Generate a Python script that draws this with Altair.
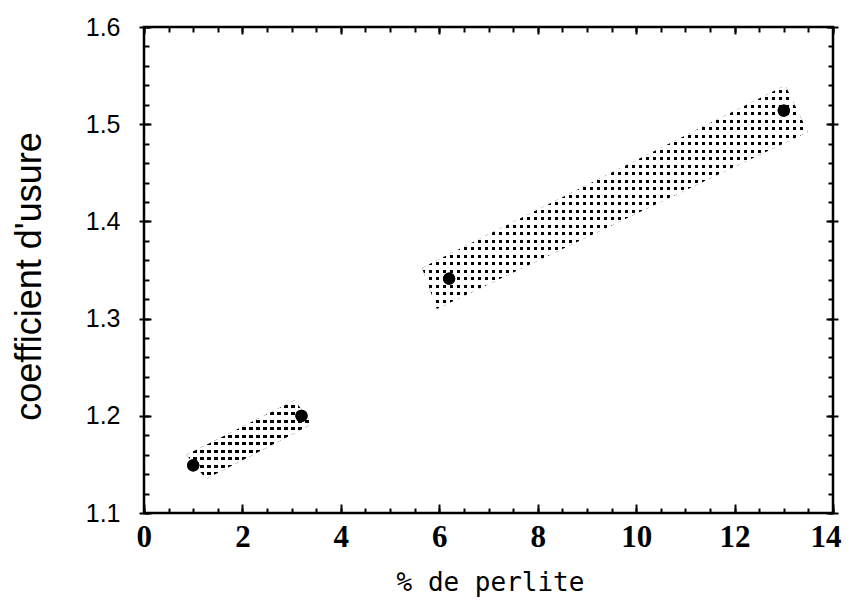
import altair as alt
import pandas as pd

# ---- data ----
PCT = [1.0, 3.2, 6.2, 13.0]          # % de perlite
COEF = [1.149, 1.200, 1.341, 1.514]  # coefficient d'usure

# stippled bands (rotated rectangles): x positions of the corners with top / bottom edges
BAND_A_X = [0.86, 1.26, 3.06, 3.42]
BAND_A_TOP = [1.160, 1.170, 1.216, 1.192]
BAND_A_BOT = [1.160, 1.135, 1.182, 1.192]
BAND_B_X = [5.65, 5.95, 13.03, 13.49]
BAND_B_TOP = [1.352, 1.360, 1.540, 1.492]
BAND_B_BOT = [1.352, 1.310, 1.481, 1.492]

X_TICKS = [0, 2, 4, 6, 8, 10, 12, 14]
X_MINOR = [i / 2 for i in range(29)]
Y_TICKS = [1.1, 1.2, 1.3, 1.4, 1.5, 1.6]
Y_MINOR = [round(1.1 + 0.02 * i, 2) for i in range(26)]

X_DOM = [0, 14]
Y_DOM = [1.1, 1.6]
W, H = 689, 486

pts = pd.DataFrame({"x": PCT, "y": COEF})
band_a = pd.DataFrame({"x": BAND_A_X, "top": BAND_A_TOP, "bot": BAND_A_BOT})
band_b = pd.DataFrame({"x": BAND_B_X, "top": BAND_B_TOP, "bot": BAND_B_BOT})

xscale = alt.Scale(domain=X_DOM, nice=False, zero=False)
yscale = alt.Scale(domain=Y_DOM, nice=False, zero=False)


def stripes(length_px, period, on, on_color, off_color, vertical):
    """Hard-edged striped gradient used to imitate the stippled fill."""
    stops = []
    n = int(length_px // period) + 1
    for k in range(n):
        a = min(1.0, k * period / length_px)
        b = min(1.0, (k * period + on) / length_px)
        stops += [
            {"offset": a, "color": on_color},
            {"offset": b, "color": on_color},
            {"offset": b, "color": off_color},
        ]
        c = min(1.0, (k + 1) * period / length_px)
        stops.append({"offset": c, "color": off_color})
    g = {"gradient": "linear", "x1": 0, "y1": 0, "x2": 0, "y2": 0, "stops": stops}
    if vertical:
        g["y2"] = 1
    else:
        g["x2"] = 1
    return g


def bbox_px(df):
    w = (df["x"].max() - df["x"].min()) * W / (X_DOM[1] - X_DOM[0])
    h = (df["top"].max() - df["bot"].min()) * H / (Y_DOM[1] - Y_DOM[0])
    return w, h


def tick_axis(orient, offset, values, size):
    return alt.Axis(orient=orient, offset=offset, values=values, tickSize=size,
                    tickWidth=2, tickColor="black", labels=False, domain=False,
                    grid=False)


lab_x = alt.Axis(orient="bottom", values=X_TICKS, format="d", ticks=False, tickSize=0,
                 domain=False, grid=False, labelFont="Liberation Serif",
                 labelFontWeight="bold", labelFontSize=31, labelColor="black",
                 labelPadding=9, labelFlush=True, labelFlushOffset=8, labelOverlap=False,
                 titleFont="DejaVu Sans Mono", titleFontSize=26, titleFontWeight="normal",
                 titleColor="black", titleX=346, titleY=77, titleBaseline="alphabetic",
                 titleAlign="center")
lab_y = alt.Axis(orient="left", values=Y_TICKS, format=".1f", ticks=True, tickSize=5,
                 tickWidth=2, tickColor="black", domain=False, grid=False,
                 labelFont="Liberation Sans", labelFontSize=25, labelPadding=19,
                 labelColor="black", labelFlush=False, labelOverlap=False,
                 titleFont="Liberation Sans", titleFontSize=36, titleFontWeight="normal",
                 titleColor="black", titleAngle=270, titleX=-104, titleY=249,
                 titleBaseline="alphabetic", titleAlign="center")


def band_layer(df, white, xaxis, yaxis, xtitle=None, ytitle=None):
    w, h = bbox_px(df)
    if white:
        fill = stripes(h, 7.5, 4.3, "white", "rgba(255,255,255,0)", True)
    else:
        fill = stripes(w, 7.0, 3.2, "black", "rgba(255,255,255,0)", False)
    return alt.Chart(df).mark_area(fill=fill, opacity=1, strokeWidth=0).encode(
        x=alt.X("x:Q", scale=xscale, axis=xaxis, title=xtitle),
        y=alt.Y("top:Q", scale=yscale, axis=yaxis, title=ytitle),
        y2="bot:Q",
    )


l1 = band_layer(band_a, False, lab_x, lab_y, "% de perlite", "coefficient d'usure")
l2 = band_layer(band_a, True, tick_axis("top", -H, X_TICKS, 9),
                tick_axis("right", -W, Y_TICKS, 7))
l3 = band_layer(band_b, False, tick_axis("top", -H, X_MINOR, 5),
                tick_axis("right", -W, Y_MINOR, 5))
l4 = band_layer(band_b, True, tick_axis("bottom", -H, X_TICKS, 7),
                tick_axis("left", -W, Y_TICKS, 7))
l5 = alt.Chart(pts).mark_circle(size=150, color="black", opacity=1).encode(
    x=alt.X("x:Q", scale=xscale, axis=tick_axis("bottom", -H, X_MINOR, 5), title=None),
    y=alt.Y("y:Q", scale=yscale, axis=tick_axis("left", -W, Y_MINOR, 5), title=None),
)
l6 = alt.Chart(pts).mark_circle(size=150, color="black", opacity=1).encode(
    x=alt.X("x:Q", scale=xscale, axis=None),
    y=alt.Y("y:Q", scale=yscale, axis=tick_axis("right", 0, Y_TICKS, 5), title=None),
)

chart = alt.layer(l1, l2, l3, l4, l5, l6).resolve_axis(
    x="independent", y="independent"
).properties(
    width=W, height=H,
    autosize=alt.AutoSizeParams(type="none"),
    padding={"left": 136, "top": 19, "right": 12, "bottom": 84},
    background="white",
).configure_view(stroke="black", strokeWidth=2.5)

chart.save("out.html", embed_options={"renderer": "svg", "actions": False})
